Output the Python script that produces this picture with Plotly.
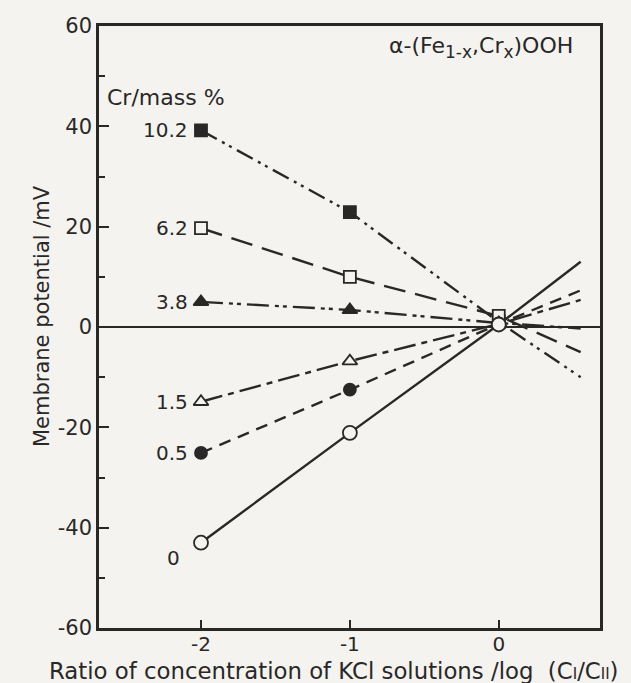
import plotly.graph_objects as go

x_vals = [-2, -1, 0, 0.55]
cr_labels = ["10.2", "6.2", "3.8", "1.5", "0.5", "0"]
y_102 = [39.2, 22.9, 1.0, -10.0]
y_62 = [19.7, 10.0, 2.2, -5.0]
y_38 = [5.0, 3.4, 0.8, -0.3]
y_15 = [-14.9, -6.8, 0.6, 5.4]
y_05 = [-25.1, -12.5, 0.6, 7.3]
y_00 = [-43.0, -21.1, 0.5, 13.0]
y_ticks = [-60, -40, -20, 0, 20, 40, 60]
y_ticktext = ["-60", "-40", "-20", "0", "20", "40", "60"]
x_ticks = [-2, -1, 0]
x_ticktext = ["-2", "-1", "0"]

INK = "#2a2727"
BG = "#f4f3ef"

series = [
    (y_102, "square", INK, "18px,6px,3px,5px,3px,6px", 12),
    (y_62, "square", BG, "22px,10px", 12),
    (y_38, "triangle-up", INK, "22px,6px,4px,4px,4px,6px", 13),
    (y_15, "triangle-up", BG, "22px,6px,6px,6px", 13),
    (y_05, "circle", INK, "12px,8px", 12),
    (y_00, "circle", BG, "solid", 14),
]

fig = go.Figure()
for ys, sym, fill, dash, msize in series:
    fig.add_trace(go.Scatter(
        x=x_vals, y=ys, mode="lines+markers", opacity=1,
        line=dict(color=INK, width=2.4, dash=dash),
        marker=dict(symbol=sym, size=[msize, msize, msize, 0], color=fill, opacity=1,
                    line=dict(color=INK, width=1.8)),
        showlegend=False, hoverinfo="skip",
    ))

FONT = "DejaVu Sans, Liberation Sans, sans-serif"

label_y = [39.2, 19.7, 5.0, -14.9, -25.1, -46.0]
for lab, yy in zip(cr_labels, label_y):
    fig.add_annotation(x=-2, y=yy, text=lab, showarrow=False, xanchor="right",
                       xshift=-11 if lab != "0" else -19,
                       font=dict(size=20, color=INK, family=FONT))

fig.add_annotation(x=-2.645, y=45.8, text="Cr/mass %", showarrow=False, xanchor="left",
                   font=dict(size=22, color=INK, family=FONT))
fig.add_annotation(x=0.51, y=55.7, yanchor="middle",
                   text="α-(Fe<sub><span style='font-size:17px'>1-x</span></sub>,Cr<sub><span style='font-size:17px'>x</span></sub>)OOH",
                   showarrow=False, xanchor="right",
                   font=dict(size=22, color=INK, family=FONT))

# axis titles as paper-anchored annotations
fig.add_annotation(xref="paper", yref="paper", x=0.47, y=-0.071, yanchor="middle",
                   text="Ratio of concentration of KCl solutions /log  (C<span style='font-size:15px'>I</span>/C<span style='font-size:15px'>II</span>)",
                   showarrow=False, font=dict(size=22.8, color=INK, family=FONT))
fig.add_annotation(xref="paper", yref="paper", x=-0.142, y=0.518, textangle=-90,
                   text="Membrane potential /mV", showarrow=False,
                   font=dict(size=21, color=INK, family=FONT))

fig.update_layout(
    width=631, height=683,
    margin=dict(l=99, r=31, t=26, b=55),
    paper_bgcolor=BG, plot_bgcolor=BG,
    font=dict(family=FONT, color=INK, size=21),
)
fig.update_xaxes(
    range=[-2.685, 0.68], tickvals=x_ticks, ticktext=x_ticktext,
    ticks="inside", ticklen=8, tickwidth=1.5, tickcolor=INK,
    showline=True, linecolor=INK, linewidth=2.5, mirror=True,
    showgrid=False, zeroline=False, ticklabelstandoff=-4,
    tickfont=dict(size=20, color=INK, family=FONT),
)
fig.update_yaxes(
    range=[-60, 60], tickvals=y_ticks, ticktext=y_ticktext,
    ticks="inside", ticklen=10, tickwidth=1.5, tickcolor=INK,
    minor=dict(dtick=10, ticks="inside", ticklen=6, tickwidth=1.5, tickcolor=INK),
    showline=True, linecolor=INK, linewidth=2.5, mirror=True,
    showgrid=False, zeroline=True, zerolinecolor=INK, zerolinewidth=2,
    tickfont=dict(size=21, color=INK, family=FONT),
)

fig.write_html("out.html")
